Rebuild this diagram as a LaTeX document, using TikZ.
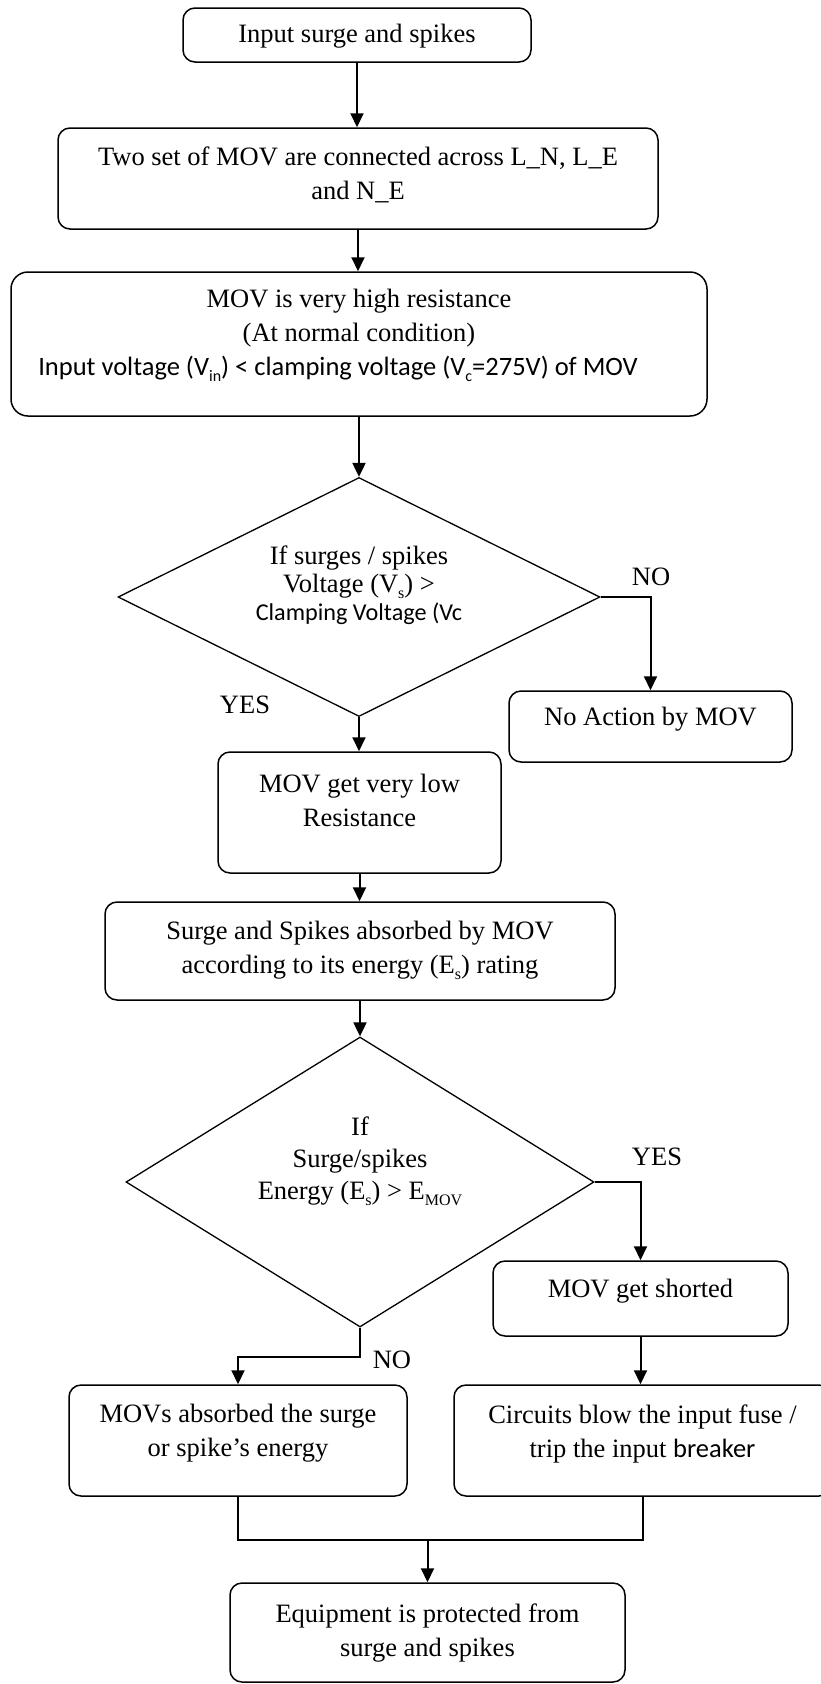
\documentclass[tikz,border=0pt]{standalone}
\usepackage{fontspec}
\setmainfont{Liberation Serif}
\newfontfamily\calib{Carlito}
\usetikzlibrary{shapes.geometric,arrows.meta}
\newcommand{\mysub}[1]{\raisebox{-0.22em}{\fontsize{16}{16}\selectfont #1}}
\begin{document}
\begin{tikzpicture}[x=1pt,y=-1pt,
  box/.style={draw, line width=1.5pt, rounded corners=12pt, inner sep=0pt},
  dia/.style={draw, diamond, line width=1.3pt, inner sep=0pt},
  txt/.style={align=center, inner sep=0pt, font=\fontsize{26.5}{34}\selectfont},
  lbl/.style={inner sep=0pt, font=\fontsize{26.5}{32}\selectfont},
  arr/.style={line width=2pt, -{Triangle[length=14pt,width=13pt]}},
  ln/.style={line width=2pt}]
\useasboundingbox (0,0) rectangle (821,1684);

% boxes
\node[box, minimum width=348pt, minimum height=54pt] (b1) at (357,35) {};
\node[txt] (t1) at (357,36) {Input surge and spikes};

\node[box, minimum width=600pt, minimum height=101pt] (b2) at (358,178.5) {};
\node[txt] (t2) at (358,174.5) {Two set of MOV are connected across L\_N, L\_E\\and N\_E};

\node[box, rounded corners=17pt, minimum width=696pt, minimum height=144pt] (b3) at (359,344) {};
\node[txt] (t3) at (359,335) {MOV is very high resistance\\(At normal condition)\\{\calib Input voltage (V\mysub{in}) < clamping voltage (V\mysub{c}=275V) of MOV}\hspace*{42pt}};

\node[dia, minimum width=482pt, minimum height=239pt] (d1) at (359,597) {};
\node[txt, font=\fontsize{26.5}{28}\selectfont] (td1) at (359,585) {If surges / spikes\\Voltage (V\mysub{s}) >\\{\calib\fontsize{24.2}{28}\selectfont Clamping Voltage (Vc}};

\node[box, minimum width=283pt, minimum height=71pt] (b4) at (650.5,726.5) {};
\node[txt] (t4) at (650.5,719) {No Action by MOV};

\node[box, minimum width=283pt, minimum height=121pt] (b5) at (359.5,812.5) {};
\node[txt] (t5) at (359.5,800) {MOV get very low\\Resistance};

\node[box, minimum width=510pt, minimum height=98pt] (b6) at (360,951) {};
\node[txt] (t6) at (360,950.5) {Surge and Spikes absorbed by MOV\\according to its energy (E\mysub{s}) rating};

\node[dia, minimum width=468pt, minimum height=290pt] (d2) at (360,1182) {};
\node[txt, font=\fontsize{26.5}{32}\selectfont] (td2) at (360,1161.5) {If\\Surge/spikes\\Energy (E\mysub{s}) > E\mysub{MOV}};

\node[box, minimum width=295pt, minimum height=75pt] (b7) at (640.5,1298.5) {};
\node[txt] (t7) at (640.5,1291) {MOV get shorted};

\node[box, minimum width=338pt, minimum height=111pt] (b8) at (238,1440.5) {};
\node[txt] (t8) at (238,1433.5) {MOVs absorbed the surge\\or spike’s energy};

\node[box, minimum width=377pt, minimum height=111pt] (b9) at (642.5,1440.5) {};
\node[txt] (t9) at (642.5,1433.5) {Circuits blow the input fuse /\\trip the input {\calib breaker}};

\node[box, minimum width=395pt, minimum height=99pt] (b10) at (427.5,1632.5) {};
\node[txt] (t10) at (427.5,1633) {Equipment is protected from\\surge and spikes};

% labels
\node[lbl] (no1) at (651,577) {NO};
\node[lbl] (yes1) at (245,705) {YES};
\node[lbl] (yes2) at (657,1157) {YES};
\node[lbl] (no2) at (392,1360) {NO};

% connectors
\draw[arr] (b1.south) -- (b1.south |- b2.north);
\draw[arr] (b2.south) -- (b2.south |- b3.north);
\draw[arr] (b3.south) -- (d1.north);
\draw[arr] (d1.east) -| (b4.north);
\draw[arr] (d1.south) -- (d1.south |- b5.north);
\draw[arr] (b5.south) -- (b5.south |- b6.north);
\draw[arr] (b6.south) -- (d2.north);
\draw[arr] (d2.east) -| (b7.north);
\draw[arr] (b7.south) -- (b7.south |- b9.north);
\coordinate (k2) at (238,1357);
\draw[arr] (d2.south) |- (k2) -- (b8.north);
\coordinate (m) at (427.5,1540);
\draw[ln] (b8.south) |- (m) -| (b9.south);
\draw[arr] (m) -- (b10.north);
\end{tikzpicture}
\end{document}
